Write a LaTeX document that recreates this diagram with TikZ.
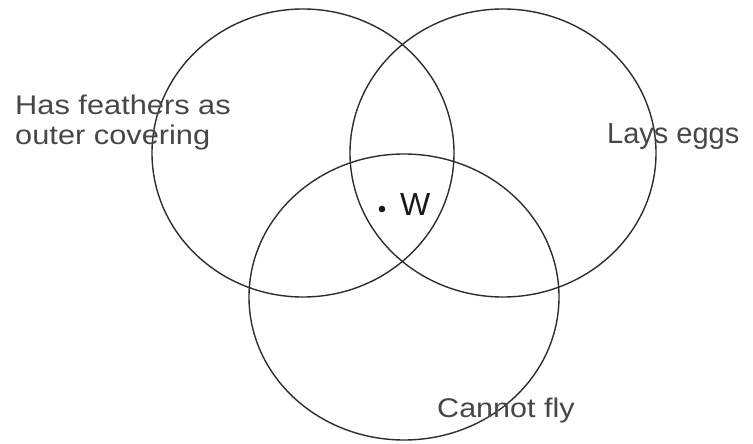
\documentclass[tikz,border=0pt]{standalone}
\usepackage{fontspec}
\setmainfont{Liberation Sans}
\begin{document}
\begin{tikzpicture}[x=1pt,y=-1pt,
  ring/.style={draw=black!82, line width=1.4pt},
  lbl/.style={text=black!72, font=\fontsize{29}{30}\selectfont, inner sep=0pt, anchor=base west},
  small/.style={font=\fontsize{27}{28}\selectfont, xscale=1.14}]
\useasboundingbox (0,0) rectangle (753,444);
\fill[white] (0,0) rectangle (753,444);
% circles
\draw[ring] (303,153) ellipse [x radius=151pt, y radius=144pt];
\draw[ring] (503,153) ellipse [x radius=153pt, y radius=144pt];
\draw[ring] (404,297) ellipse [x radius=155pt, y radius=143pt];
% labels
\node[lbl, small] (feath1) at (15,114) {Has feathers as};
\node[lbl, small] (feath2) at (15,144) {outer covering};
\node[lbl] (eggs) at (607,143) {Lays eggs};
\node[lbl, small, xscale=1.13/1.14] (fly) at (437,417) {Cannot fly};
% point W
\fill[black!90] (382,209) circle [radius=3.3pt];
\node[lbl, text=black!90, font=\fontsize{32}{34}\selectfont] (w) at (400,215) {W};
\end{tikzpicture}
\end{document}
